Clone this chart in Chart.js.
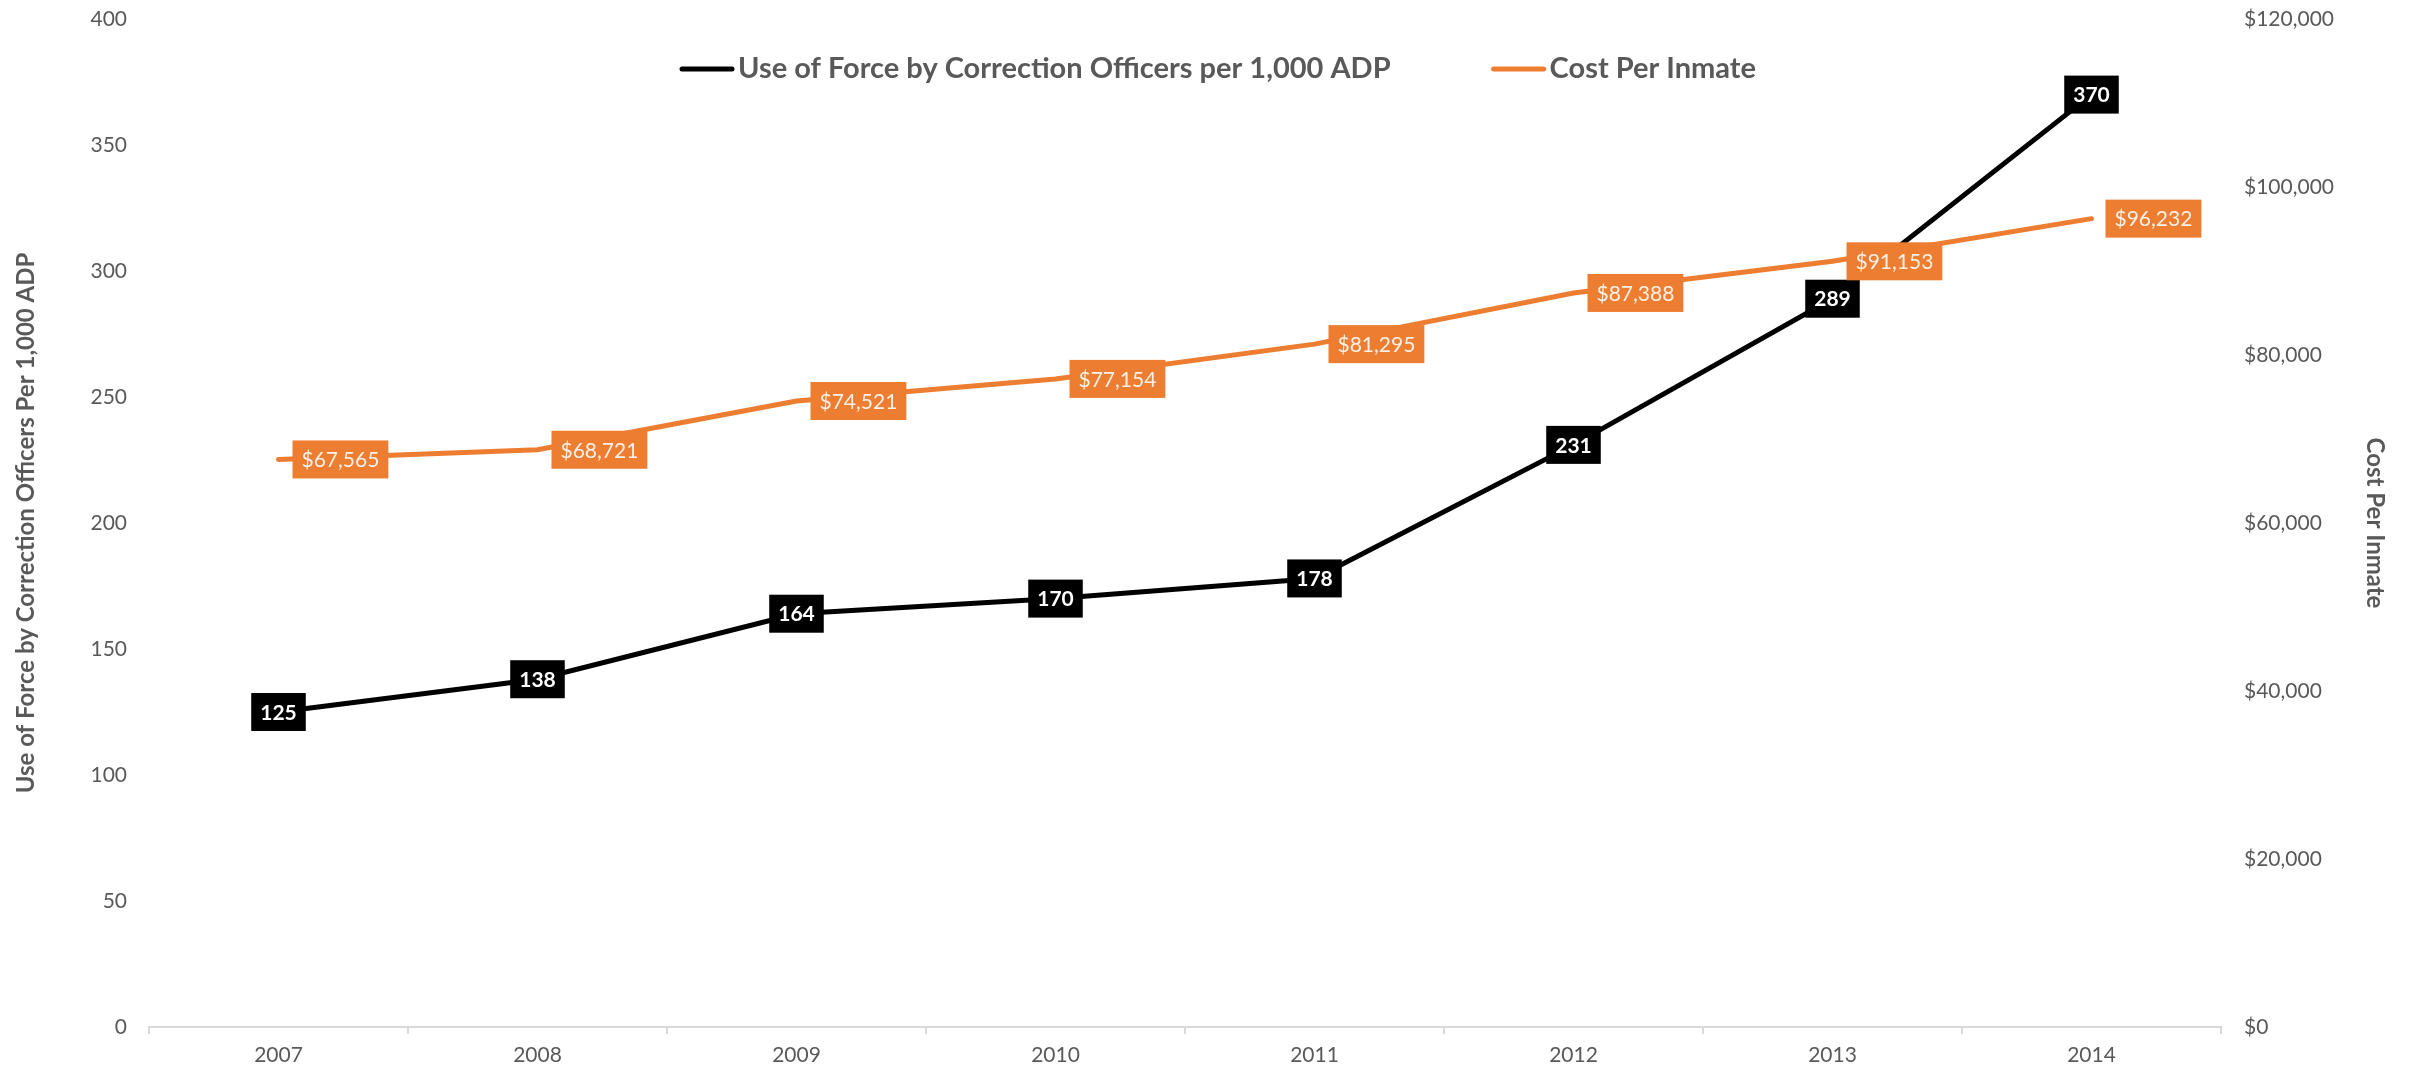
<!DOCTYPE html>
<html>
<head>
<meta charset="utf-8">
<script src="https://cdn.jsdelivr.net/npm/chart.js@4/dist/chart.umd.min.js"></script>
<style>
  html, body { margin: 0; padding: 0; background: #ffffff; }
  canvas { display: block; }
</style>
</head>
<body>
<canvas id="cpiChart" width="2412" height="1071"></canvas>
<script>
var years = ['2007', '2008', '2009', '2010', '2011', '2012', '2013', '2014'];
var useOfForce = [125, 138, 164, 170, 178, 231, 289, 370];
var costPerInmate = [67565, 68721, 74521, 77154, 81295, 87388, 91153, 96232];
var leftTicks = [0, 400, 50];       // min, max, step
var rightTicks = [0, 120000, 20000];

var FONT = 'Lato';
var GREY = '#595959';
var ORANGE = '#ED7D31';

function money(v) {
    return '$' + Number(v).toLocaleString('en-US');
}

// boxes with the values, drawn on top of the lines
var valueBoxes = {
    id: 'valueBoxes',
    afterDatasetsDraw: function (chart) {
        var ctx = chart.ctx;
        ctx.save();
        ctx.textBaseline = 'middle';
        ctx.textAlign = 'center';
        [0, 1].forEach(function (i) {
            var ds = chart.data.datasets[i];
            var meta = chart.getDatasetMeta(i);
            ctx.font = (ds.boxBold ? 'bold ' : '') + '21px ' + FONT;
            meta.data.forEach(function (pt, j) {
                var txt = ds.boxFormat(ds.data[j]);
                var w = ctx.measureText(txt).width + 18;
                var h = 38;
                var x = ds.boxSide === 'right' ? pt.x + 14 : pt.x - w / 2;
                ctx.fillStyle = ds.borderColor;
                ctx.fillRect(x, pt.y - h / 2, w, h);
                ctx.fillStyle = ds.boxText;
                ctx.fillText(txt, x + w / 2, pt.y + 1);
            });
        });
        ctx.restore();
    },
    afterDraw: function (chart) {
        // legend sits inside the plot, at the top
        var ctx = chart.ctx;
        ctx.save();
        ctx.font = 'bold 29px ' + FONT;
        ctx.textBaseline = 'middle';
        ctx.textAlign = 'left';
        ctx.lineCap = 'round';
        var x = 682, y = 69;
        chart.data.datasets.forEach(function (ds) {
            ctx.strokeStyle = ds.borderColor;
            ctx.lineWidth = 5;
            ctx.beginPath();
            ctx.moveTo(x, y);
            ctx.lineTo(x + 50, y);
            ctx.stroke();
            ctx.fillStyle = GREY;
            ctx.fillText(ds.label, x + 56, y);
            x += 56 + ctx.measureText(ds.label).width + 103;
        });
        ctx.restore();
    }
};

// fixed axis sizes, and no extra room for the tick padding at the ends
function fixY(width) {
    return function (s) {
        s.width = width;
        s.paddingTop = 0;
        s.paddingBottom = 0;
    };
}

var cfg = {
    type: 'line',
    data: {
        labels: years,
        datasets: [
            {
                label: 'Use of Force by Correction Officers per 1,000 ADP',
                data: useOfForce,
                yAxisID: 'y',
                borderColor: '#000000',
                borderWidth: 5,
                pointRadius: 0,
                borderCapStyle: 'round',
                order: 1,
                boxBold: true, boxSide: 'center', boxText: '#ffffff',
                boxFormat: function (v) { return String(v); }
            },
            {
                label: 'Cost Per Inmate',
                data: costPerInmate,
                yAxisID: 'y1',
                borderColor: ORANGE,
                borderWidth: 5,
                pointRadius: 0,
                borderCapStyle: 'round',
                order: 0,
                boxBold: false, boxSide: 'right', boxText: '#fdf1e8',
                boxFormat: money
            }
        ]
    },
    options: {
        responsive: false,
        devicePixelRatio: 1,
        animation: false,
        layout: { padding: { top: 19 } },
        plugins: { legend: { display: false }, tooltip: { enabled: false } },
        scales: {
            x: {
                offset: true,
                grid: { display: true, drawOnChartArea: false, offset: true, tickLength: 7, color: '#d9d9d9', lineWidth: 2 },
                border: { color: '#d9d9d9', width: 2 },
                ticks: { color: GREY, font: { family: FONT, size: 21 }, padding: 9 },
                afterFit: function (s) { s.height = 44; s.paddingLeft = 0; s.paddingRight = 0; }
            },
            y: {
                position: 'left',
                min: leftTicks[0], max: leftTicks[1],
                ticks: { stepSize: leftTicks[2], color: GREY, font: { family: FONT, size: 21 }, padding: 22 },
                grid: { display: false, drawTicks: false },
                border: { display: false },
                title: {
                    display: true, text: 'Use of Force by Correction Officers Per 1,000 ADP',
                    color: GREY, font: { family: FONT, size: 24, weight: 'bold' }, padding: { top: 12, bottom: 0 }
                },
                afterFit: fixY(149)
            },
            y1: {
                position: 'right',
                min: rightTicks[0], max: rightTicks[1],
                ticks: { stepSize: rightTicks[2], color: GREY, font: { family: FONT, size: 21 }, padding: 23, callback: money },
                grid: { display: false, drawTicks: false },
                border: { display: false },
                title: {
                    display: true, text: 'Cost Per Inmate',
                    color: GREY, font: { family: FONT, size: 24, weight: 'bold' }, padding: { top: 23, bottom: 0 }
                },
                afterFit: fixY(191)
            }
        }
    },
    plugins: [valueBoxes]
};

var cpiChart = new Chart(document.getElementById('cpiChart').getContext('2d'), cfg);
</script>
</body>
</html>
